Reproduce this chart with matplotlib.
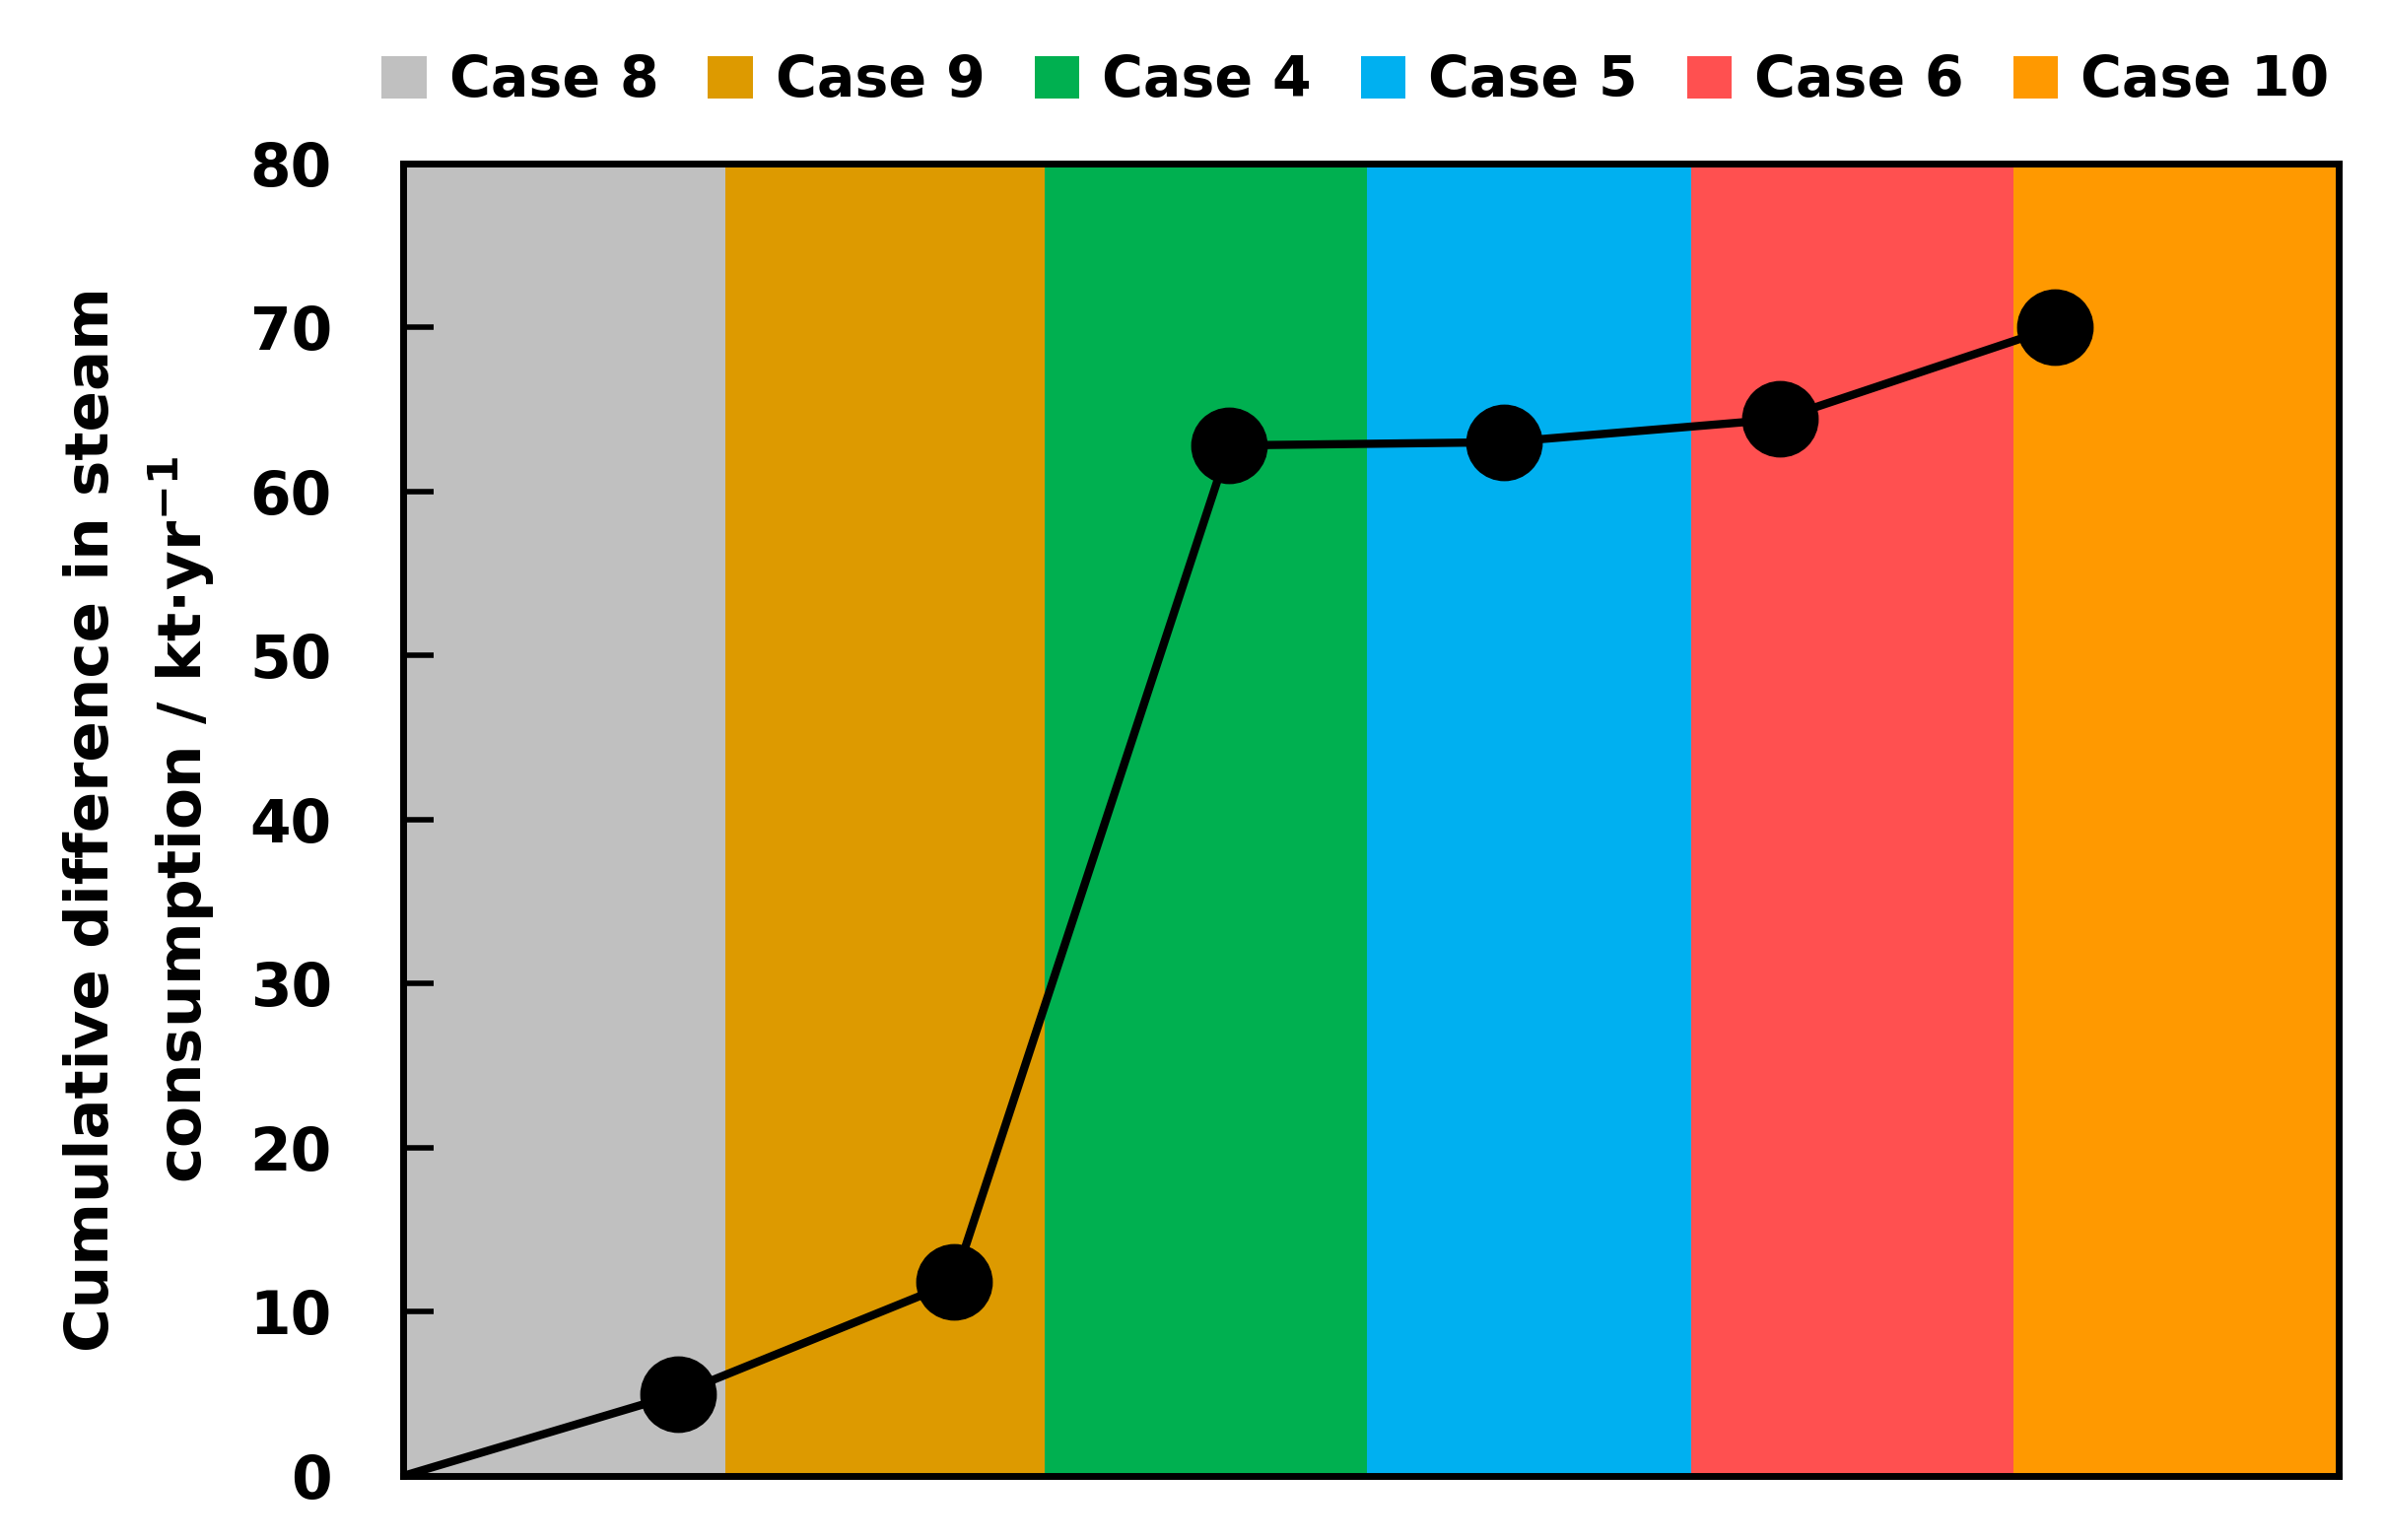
import matplotlib
matplotlib.use("Agg")
import matplotlib.pyplot as plt
from matplotlib.patches import Patch

# ---- data ----
cases = ["Case 8", "Case 9", "Case 4", "Case 5", "Case 6", "Case 10"]
band_colors = ["#C0C0C0", "#DD9A00", "#00B050", "#00B0F0", "#FF5050", "#FF9900"]
band_edges = [0.0, 1.17, 2.33, 3.50, 4.68, 5.85, 7.03]

step_x = [0, 1, 2, 3, 4, 5, 6]
cum_diff = [0.0, 5.0, 11.8, 62.8, 63.0, 64.4, 70.0]
y_ticks = [0, 10, 20, 30, 40, 50, 60, 70, 80]

plt.rcParams["font.family"] = ["DejaVu Sans"]
plt.rcParams["font.weight"] = "bold"

fig = plt.figure(figsize=(24.21, 15.63), dpi=100)
ax = fig.add_axes([0.169, 0.0416, 0.811, 0.8524])

# background bands, one per case
for i, c in enumerate(band_colors):
    ax.axvspan(band_edges[i], band_edges[i + 1], color=c, lw=0, zorder=0)

# cumulative curve; first point is the origin and has no marker
ax.plot(step_x, cum_diff, color="black", lw=6, zorder=3, solid_capstyle="round")
ax.plot(step_x[1:], cum_diff[1:], "o", color="black", ms=55, zorder=4)

ax.set_xlim(band_edges[0], band_edges[-1])
ax.set_ylim(0, 80)
ax.set_xticks([])
ax.set_yticks(y_ticks)
ax.tick_params(axis="y", direction="in", length=22, width=4, color="black",
               labelsize=43, pad=52)
ax.yaxis.set_zorder(6)
for lbl in ax.get_yticklabels():
    lbl.set_fontweight("bold")
for s in ax.spines.values():
    s.set_linewidth(5)
    s.set_color("black")
    s.set_zorder(5)

ax.set_ylabel("Cumulative difference in steam\nconsumption / kt$\\cdot$yr$^{\\mathbf{-1}}$",
              fontsize=44, fontweight="bold", labelpad=24, linespacing=1.45)

handles = [Patch(facecolor=c, edgecolor="none") for c in band_colors]
fig.legend(handles, cases, loc="center left", bbox_to_anchor=(0.160, 0.947),
           ncol=6, frameon=False, prop={"weight": "bold", "size": 41},
           handlelength=0.8, handleheight=0.8, handletextpad=0.4,
           columnspacing=0.88, borderpad=0, borderaxespad=0)

fig.savefig("out.png", dpi=100)
